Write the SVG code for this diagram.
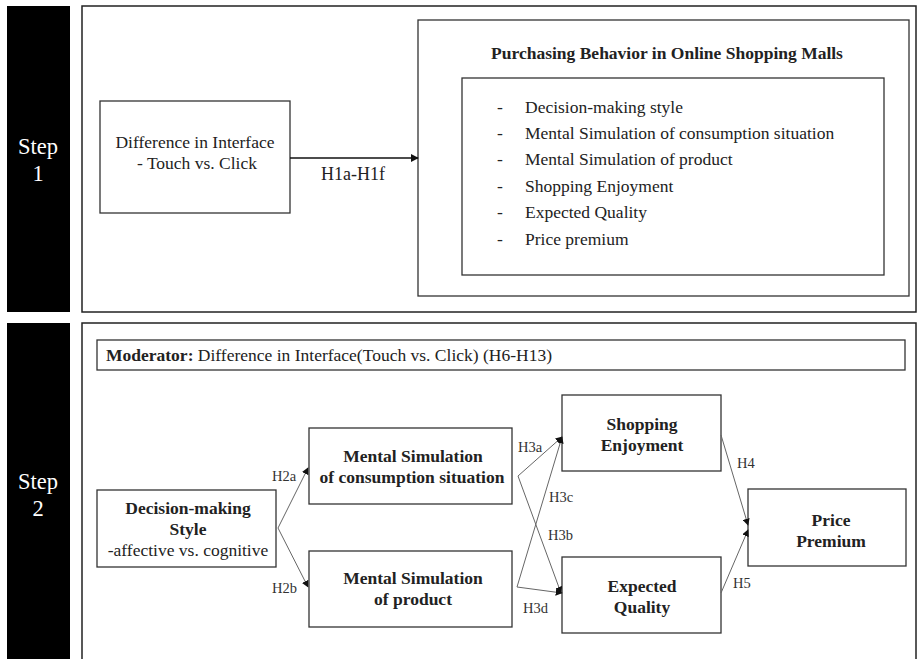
<svg xmlns="http://www.w3.org/2000/svg" width="920" height="659" viewBox="0 0 920 659">
<style>
text{font-family:"Liberation Serif","Times New Roman",serif;fill:#222;}
.step{fill:#fff;font-size:22.5px;text-anchor:middle;}
.box{fill:#fff;stroke:#333;stroke-width:1.3;}
.frame{fill:#fff;stroke:#222;stroke-width:1.5;}
.t{font-size:17.5px;}
.b{font-size:17.5px;font-weight:bold;text-anchor:middle;}
.c{text-anchor:middle;}
.lab{font-size:14.5px;fill:#333;}
.con{stroke:#666;stroke-width:1;fill:none;}
</style>
<defs>
<marker id="ah" viewBox="0 0 10 10" refX="9" refY="5" markerWidth="7" markerHeight="7" markerUnits="userSpaceOnUse" orient="auto">
<path d="M0,0 L10,5 L0,10 z" fill="#111"/>
</marker>
<marker id="ah2" viewBox="0 0 10 10" refX="9" refY="5" markerWidth="8" markerHeight="8" markerUnits="userSpaceOnUse" orient="auto">
<path d="M0,0 L10,5 L0,10 z" fill="#111"/>
</marker>
</defs>

<g id="step1-bar"><rect x="7" y="6" width="63" height="306" fill="#000"/>
<text class="step" x="38" y="154">Step</text><text class="step" x="38" y="181">1</text></g>
<g id="step2-bar"><rect x="7" y="323" width="63" height="340" fill="#000"/>
<text class="step" x="38" y="489">Step</text><text class="step" x="38" y="516">2</text></g>

<g id="step1-frame"><rect class="frame" x="82" y="6" width="834" height="306"/></g>
<g id="step2-frame"><rect class="frame" x="82" y="323" width="834" height="345"/></g>

<g id="interface"><rect class="box" x="100" y="101" width="190" height="112"/>
<text class="t c" x="195" y="148">Difference in Interface</text>
<text class="t c" x="197" y="169">- Touch vs. Click</text></g>

<g id="purchasing"><rect class="box" x="418" y="20" width="491" height="276"/>
<text class="b" x="667" y="59">Purchasing Behavior in Online Shopping Malls</text>
<rect class="box" x="462" y="78" width="422" height="197"/>
<g class="t">
<text x="497" y="113">-</text><text x="525" y="113">Decision-making style</text>
<text x="497" y="139">-</text><text x="525" y="139">Mental Simulation of consumption situation</text>
<text x="497" y="165">-</text><text x="525" y="165">Mental Simulation of product</text>
<text x="497" y="192">-</text><text x="525" y="192">Shopping Enjoyment</text>
<text x="497" y="218">-</text><text x="525" y="218">Expected Quality</text>
<text x="497" y="245">-</text><text x="525" y="245">Price premium</text>
</g></g>

<g id="moderator"><rect class="box" x="97" y="340" width="808" height="30"/>
<text class="t" x="106" y="361"><tspan font-weight="bold">Moderator:</tspan> Difference in Interface(Touch vs. Click) (H6-H13)</text></g>

<g id="decision"><rect class="box" x="97" y="490" width="179" height="77"/>
<text class="b" x="188" y="514">Decision-making</text>
<text class="b" x="188" y="535">Style</text>
<text class="t c" x="188" y="556">-affective vs. cognitive</text></g>

<g id="ms-consumption"><rect class="box" x="309" y="428" width="203" height="76"/>
<text class="b" x="413" y="462">Mental Simulation</text>
<text class="b" x="412" y="483">of consumption situation</text></g>

<g id="ms-product"><rect class="box" x="309" y="551" width="203" height="76"/>
<text class="b" x="413" y="584">Mental Simulation</text>
<text class="b" x="413" y="605">of product</text></g>

<g id="enjoyment"><rect class="box" x="562" y="395" width="159" height="76"/>
<text class="b" x="642" y="430">Shopping</text>
<text class="b" x="642" y="451">Enjoyment</text></g>

<g id="quality"><rect class="box" x="562" y="557" width="159" height="76"/>
<text class="b" x="642" y="592">Expected</text>
<text class="b" x="642" y="613">Quality</text></g>

<g id="premium"><rect class="box" x="748" y="489" width="158" height="77"/>
<text class="b" x="831" y="526">Price</text>
<text class="b" x="831" y="547">Premium</text></g>

<g id="connectors">
<line x1="290" y1="158" x2="418" y2="158" stroke="#111" stroke-width="1.3" marker-end="url(#ah2)"/>
<text class="t c" x="353" y="180" style="font-size:18px">H1a-H1f</text>
<line class="con" x1="278" y1="528" x2="308" y2="468" marker-end="url(#ah)"/>
<line class="con" x1="278" y1="528" x2="308" y2="587" marker-end="url(#ah)"/>
<line class="con" x1="518" y1="476" x2="562" y2="437" marker-end="url(#ah)"/>
<line class="con" x1="518" y1="476" x2="561" y2="593" marker-end="url(#ah)"/>
<line class="con" x1="517" y1="587" x2="562" y2="437" marker-end="url(#ah)"/>
<line class="con" x1="517" y1="587" x2="562" y2="593" marker-end="url(#ah)"/>
<line class="con" x1="721" y1="435" x2="748" y2="525" marker-end="url(#ah)"/>
<line class="con" x1="721" y1="593" x2="748" y2="530" marker-end="url(#ah)"/>
<text class="lab" x="272" y="481">H2a</text>
<text class="lab" x="272" y="593">H2b</text>
<text class="lab" x="518" y="452">H3a</text>
<text class="lab" x="549" y="502">H3c</text>
<text class="lab" x="548" y="540">H3b</text>
<text class="lab" x="523" y="613">H3d</text>
<text class="lab" x="737" y="468">H4</text>
<text class="lab" x="733" y="588">H5</text>
</g>
</svg>
